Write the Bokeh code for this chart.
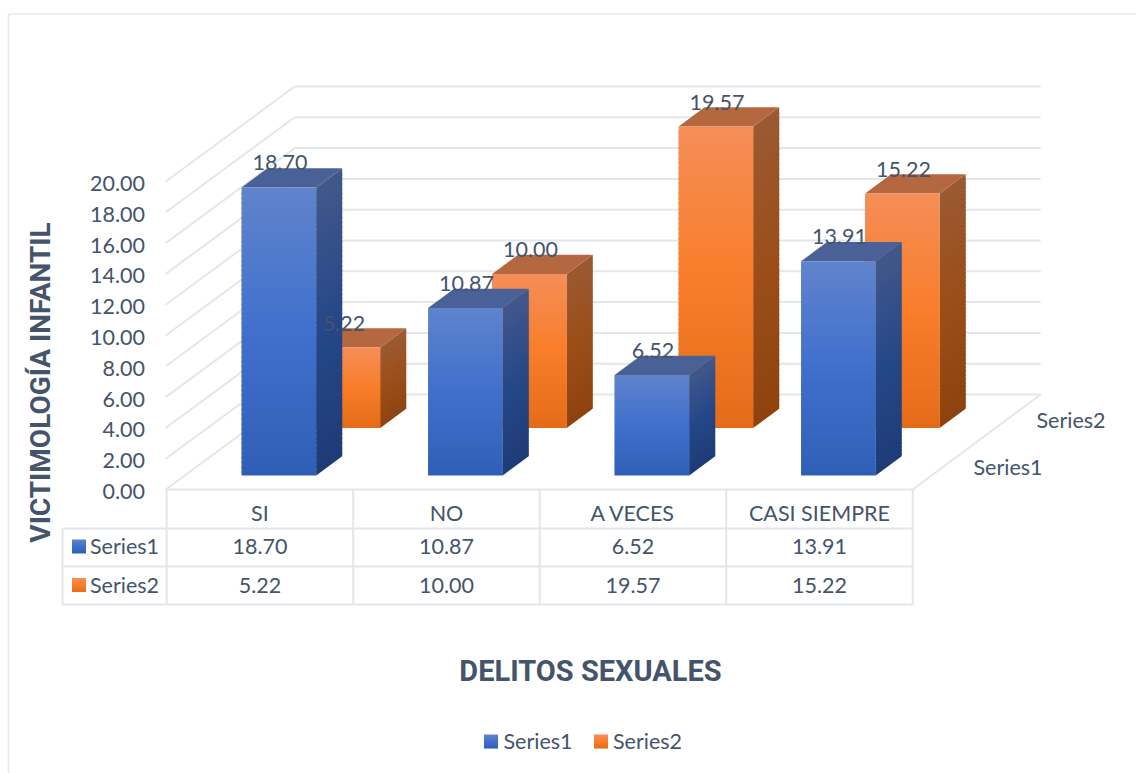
from bokeh.plotting import figure
from bokeh.models import Range1d
from bokeh.core.properties import value
from bokeh.embed import file_html
from bokeh.resources import INLINE

categories = ["SI", "NO", "A VECES", "CASI SIEMPRE"]
series_names = ["Series1", "Series2"]
series1 = [18.70, 10.87, 6.52, 13.91]
series2 = [5.22, 10.00, 19.57, 15.22]
value_ticks = [0, 2, 4, 6, 8, 10, 12, 14, 16, 18, 20]
x_title = "DELITOS SEXUALES"
y_title = "VICTIMOLOGÍA INFANTIL"

TXT = "#44546A"
GRID = "#E3E6EB"
FONT = value("Lato")
TITLE_FONT = value("Roboto")

# oblique projection: category position, depth (0..1), value -> page pixel
X0, Y0, CAT_W, DX, DY, UNIT = 166.2, 489.0, 186.5, 128.0, 95.0, 15.4
def px(c, d):
    return X0 + CAT_W * c + DX * d
def py(d, v):
    return Y0 - DY * d - UNIT * v

BAR_W = 0.40
BAR_D = 0.203
SLOT = {0: 0.148, 1: 0.648}
PAL = {
    0: dict(front=[(96, 131, 204), (64, 112, 204), (47, 95, 181)],
            side=[(66, 88, 138), (38, 72, 136), (30, 60, 118)],
            top=(74, 97, 152)),
    1: dict(front=[(245, 142, 88), (249, 125, 42), (228, 108, 24)],
            side=[(154, 90, 50), (155, 78, 25), (142, 67, 15)],
            top=(181, 104, 64)),
}

def ramp(stops, t):
    if t < 0.5:
        a, b, u = stops[0], stops[1], t / 0.5
    else:
        a, b, u = stops[1], stops[2], (t - 0.5) / 0.5
    return "#%02x%02x%02x" % tuple(int(round(a[i] + (b[i] - a[i]) * u)) for i in range(3))

p = figure(width=1136, height=773, x_range=Range1d(0, 1136), y_range=Range1d(773, 0),
           output_backend="svg", toolbar_location=None, min_border=0,
           background_fill_color="white", border_fill_color="white", outline_line_color=None)
p.axis.visible = False
p.grid.visible = False

# chart frame
p.multi_line(xs=[[8, 8], [8, 1136]], ys=[[773, 13.5], [13.5, 13.5]], line_color="#E6E8EE", line_width=1.5)

# walls and floor
gx, gy = [], []
for v in value_ticks:
    gx.append([px(0, 0) - 1, px(0, 1), px(4, 1)])
    gy.append([py(0, v), py(1, v), py(1, v)])
gx.append([px(4, 0), px(4, 1)])
gy.append([py(0, 0), py(1, 0)])
# data table grid
rows = [Y0, 528, 566, 604]
for i, r in enumerate(rows):
    gx.append([62 if i else X0 - 1, px(4, 0)])
    gy.append([r, r])
for c in range(5):
    gx.append([px(c, 0), px(c, 0)])
    gy.append([Y0, rows[-1]])
gx.append([62, 62])
gy.append([rows[1], rows[-1]])
p.multi_line(xs=gx, ys=gy, line_color=GRID, line_width=2)

# 3D bars, back row first
xs, ys, cols = [], [], []
N = 60
label_x, label_y, label_t = [], [], []
for s, vals in [(1, series2), (0, series1)]:
    d0 = SLOT[s]
    d1 = d0 + BAR_D
    for c, v in enumerate(vals):
        lx = px(c + 0.5 - BAR_W / 2, d0)
        rx = px(c + 0.5 + BAR_W / 2, d0)
        wx = DX * BAR_D
        wy = DY * BAR_D
        ytop, ybot = py(d0, v), py(d0, 0)
        # side face
        for i in range(N):
            t0, t1 = i / N, min(1.0, (i + 1.6) / N)
            a = ytop + (ybot - ytop) * t0
            b = ytop + (ybot - ytop) * t1
            xs.append([rx, rx + wx, rx + wx, rx])
            ys.append([a, a - wy, b - wy, b])
            cols.append(ramp(PAL[s]["side"], (i + 0.5) / N))
        # top face
        xs.append([lx, rx, rx + wx, lx + wx])
        ys.append([ytop, ytop, ytop - wy, ytop - wy])
        cols.append("#%02x%02x%02x" % PAL[s]["top"])
        # front face
        for i in range(N):
            t0, t1 = i / N, min(1.0, (i + 1.6) / N)
            a = ytop + (ybot - ytop) * t0
            b = ytop + (ybot - ytop) * t1
            xs.append([lx, rx, rx, lx])
            ys.append([a, a, b, b])
            cols.append(ramp(PAL[s]["front"], (i + 0.5) / N))
        label_x.append((lx + rx) / 2 + 1)
        label_y.append(ytop - 24.5)
        label_t.append(f"{v:.2f}")

p.patches(xs=xs, ys=ys, fill_color=cols, line_color=None)

def txt(x, y, t, size, align="center", color=TXT, font=FONT, style="normal", angle=0):
    p.text(x=x, y=y, text=t, text_font=font, text_font_size=size, text_color=color,
           text_align=align, text_baseline="middle", text_font_style=style, angle=angle)

SIZE = "21.5px"
# data labels
txt(label_x, label_y, label_t, SIZE)

# value axis labels
txt([144.5] * len(value_ticks), [py(0, v) + 2 for v in value_ticks],
    [f"{v:.2f}" for v in value_ticks], SIZE, align="right")

# depth axis labels
txt([1036, 973], [419.5, 466.5], [series_names[1], series_names[0]], SIZE, align="left")

# data table
centers = [px(c + 0.5, 0) for c in range(4)]
txt(centers, [512.5] * 4, categories, SIZE)
txt(centers, [545.5] * 4, [f"{v:.2f}" for v in series1], SIZE)
txt(centers, [584.5] * 4, [f"{v:.2f}" for v in series2], SIZE)
txt([89.5, 89.5], [545.5, 584.5], series_names, SIZE, align="left")

# swatches
sx, sy, sc = [], [], []
for s, (x, y) in [(0, (71.5, 539)), (1, (71.5, 577.5)), (0, (483.5, 734)), (1, (593.5, 734))]:
    for i in range(14):
        sx.append([x, x + 14, x + 14, x])
        sy.append([y + i, y + i, y + min(14, i + 1.6), y + min(14, i + 1.6)])
        sc.append(ramp(PAL[s]["front"], (i + 0.5) / 14))
p.patches(xs=sx, ys=sy, fill_color=sc, line_color=None)

# legend texts
txt([503, 612.5], [740, 740], series_names, SIZE, align="left")

# axis titles
txt([590], [670], [x_title], "29px", font=TITLE_FONT, style="bold")
txt([40], [382], [y_title], "28px", font=TITLE_FONT, style="bold", angle=1.5708)

open("out.html", "w").write(file_html(p, INLINE))
